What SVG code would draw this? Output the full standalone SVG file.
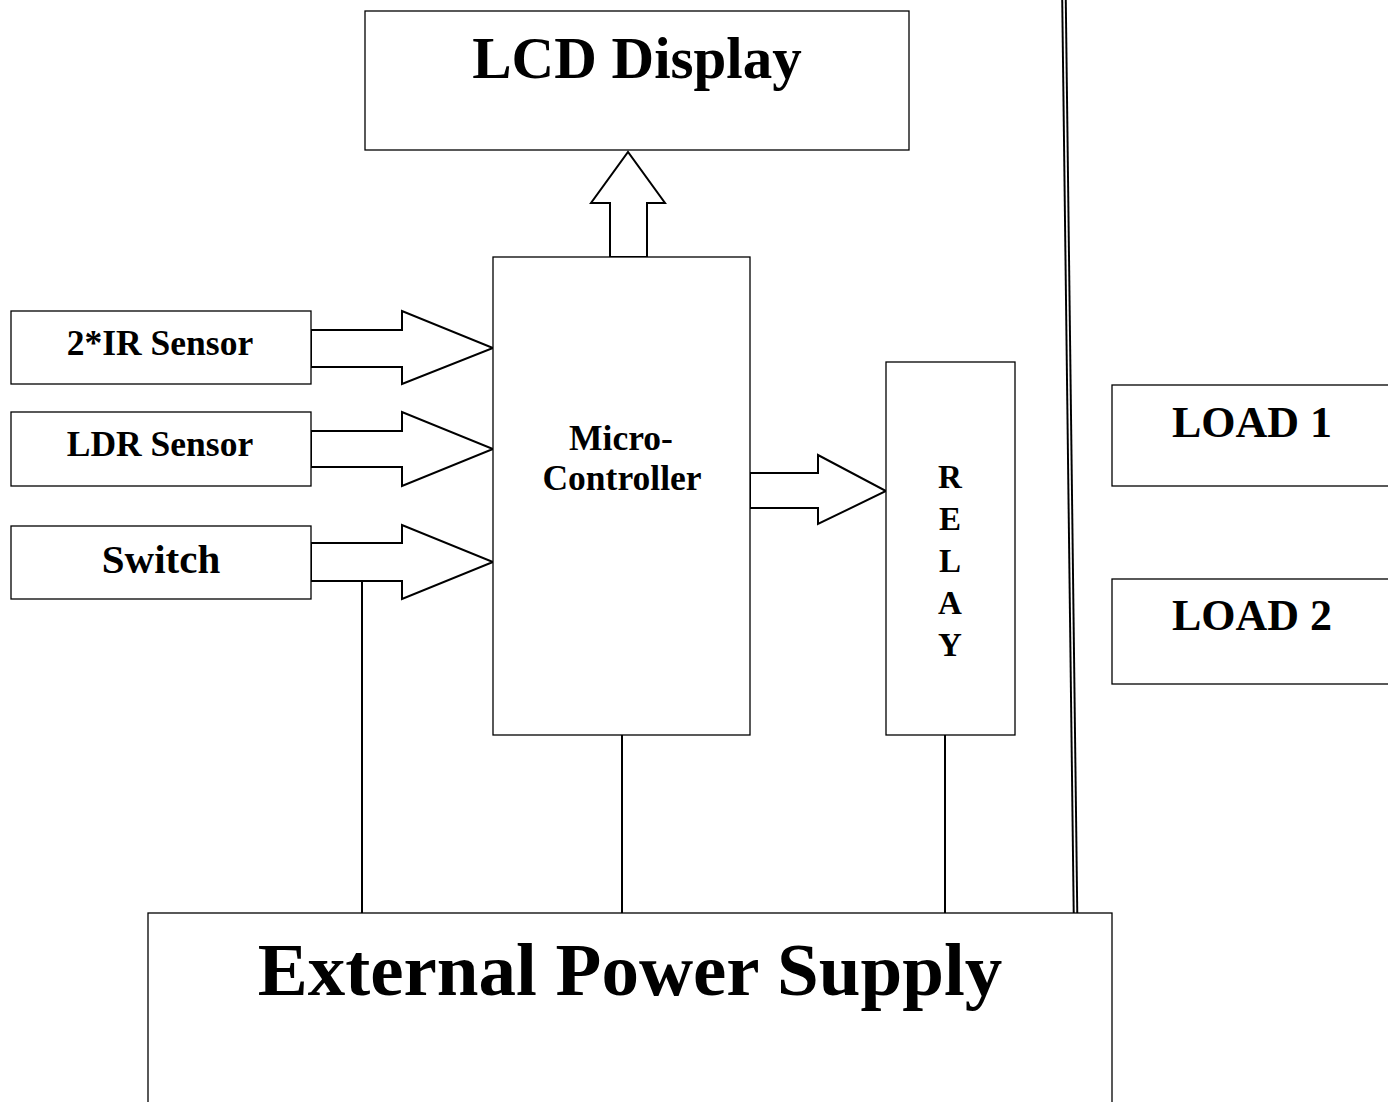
<svg xmlns="http://www.w3.org/2000/svg" width="1388" height="1102" viewBox="0 0 1388 1102">
<style>
.box{fill:#fff;stroke:#000;stroke-width:1.3}
.arr{fill:#fff;stroke:#000;stroke-width:2;stroke-linejoin:miter}
.ln{stroke:#000;stroke-width:2;fill:none}
text{font-family:"Liberation Serif","Times New Roman",serif;font-weight:bold;fill:#000;text-anchor:middle}
</style>
<rect width="1388" height="1102" fill="#fff"/>
<g id="connectors">
<line class="ln" x1="362" y1="581" x2="362" y2="913"/>
<line class="ln" x1="622" y1="735" x2="622" y2="913"/>
<line class="ln" x1="945" y1="735" x2="945" y2="913"/>
<line x1="1064" y1="0" x2="1075.5" y2="913" stroke="#000" stroke-width="5.5"/>
<line x1="1064" y1="0" x2="1075.5" y2="913" stroke="#fff" stroke-width="1.6"/>
<polygon class="arr" points="311,330 402,330 402,311 493,348 402,384 402,367 311,367"/>
<polygon class="arr" points="311,431 402,431 402,412 493,449 402,486 402,467 311,467"/>
<polygon class="arr" points="311,543 402,543 402,525 493,562 402,599 402,581 311,581"/>
<polygon class="arr" points="750,473 818,473 818,455 886,491 818,524 818,508 750,508"/>
<polygon class="arr" points="610,257 610,203 591,203 628,152 665,203 647,203 647,257"/>
</g>
<g id="lcd">
<rect class="box" x="365" y="11" width="544" height="139"/>
<text x="637" y="78" font-size="59">LCD Display</text>
</g>
<g id="ir">
<rect class="box" x="11" y="311" width="300" height="73"/>
<text x="160" y="355" font-size="35.5">2*IR Sensor</text>
</g>
<g id="ldr">
<rect class="box" x="11" y="412" width="300" height="74"/>
<text x="160" y="456" font-size="35.5">LDR Sensor</text>
</g>
<g id="switch">
<rect class="box" x="11" y="526" width="300" height="73"/>
<text x="161" y="573" font-size="41">Switch</text>
</g>
<g id="mcu">
<rect class="box" x="493" y="257" width="257" height="478"/>
<text x="621" y="450" font-size="35.5">Micro-</text>
<text x="622" y="490" font-size="35.5">Controller</text>
</g>
<g id="relay">
<rect class="box" x="886" y="362" width="129" height="373"/>
<text x="950" y="488" font-size="33">R</text>
<text x="950" y="530" font-size="33">E</text>
<text x="950" y="572" font-size="33">L</text>
<text x="950" y="614" font-size="33">A</text>
<text x="950" y="656" font-size="33">Y</text>
</g>
<g id="load1">
<rect class="box" x="1112" y="385" width="290" height="101"/>
<text x="1252" y="437" font-size="44">LOAD 1</text>
</g>
<g id="load2">
<rect class="box" x="1112" y="579" width="290" height="105"/>
<text x="1252" y="630" font-size="44">LOAD 2</text>
</g>
<g id="power">
<rect class="box" x="148" y="913" width="964" height="200"/>
<text x="630" y="995" font-size="75">External Power Supply</text>
</g>
</svg>
